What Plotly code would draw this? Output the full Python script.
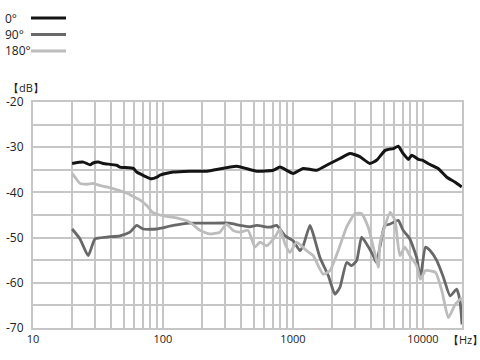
import plotly.graph_objects as go

# ---- data ----
freq_0 = [20, 24.4, 27.5, 29, 31.8, 34.7, 44.1, 46.7, 59.2, 62.8, 81.6, 89, 95, 120, 161, 217,
          369, 526, 705, 795, 1004, 1200, 1523, 1927, 2300, 2750, 3270, 3900, 4400, 5130,
          5920, 6460, 7050, 7730, 8210, 9240, 10000, 10950, 13100, 15200, 17600, 19900]
db_0 = [-33.6, -33.3, -33.9, -33.5, -33.3, -33.6, -34.0, -34.4, -34.7, -35.5, -37.0, -36.7, -36.2,
        -35.5, -35.3, -35.3, -34.2, -35.3, -35.1, -34.4, -35.8, -34.7, -35.1, -33.6, -32.5,
        -31.4, -32.1, -33.6, -32.9, -30.7, -30.3, -29.8, -31.4, -32.7, -31.8, -32.7, -32.9,
        -33.6, -34.7, -36.6, -37.7, -38.8]

freq_90 = [20, 23, 26.6, 30, 36.9, 46.7, 55.7, 62.8, 70.5, 89, 120, 161, 229, 326, 391, 466,
           527, 667, 750, 870, 1004, 1133, 1200, 1352, 1432, 1614, 1870, 2105, 2300, 2588,
           2830, 3093, 3376, 3690, 4150, 4380, 4980, 5130, 5600, 6460, 7050, 7940, 8950,
           9560, 10480, 11400, 12800, 14400, 16200, 18200, 19300, 20000]
db_90 = [-48.1, -50.3, -54.0, -50.3, -49.9, -49.6, -48.8, -47.3, -48.1, -48.1, -47.3, -46.8,
         -46.8, -46.8, -47.3, -47.6, -47.3, -47.7, -47.3, -49.6, -50.7, -52.9, -51.8, -47.3,
         -49.2, -54.4, -58.4, -62.5, -61.0, -55.5, -56.2, -55.1, -49.9, -51.4, -54.0, -55.5,
         -48.1, -47.3, -47.0, -46.2, -48.4, -50.3, -54.4, -58.8, -52.1, -52.9, -55.1, -58.8,
         -62.9, -61.4, -64.0, -69.2]

freq_180 = [20, 21.5, 23, 26, 29, 33, 37, 45, 53, 60, 66, 75, 84, 95, 107, 125, 161, 193, 229,
            274, 308, 346, 391, 452, 510, 558, 627, 727, 795, 870, 948, 1067, 1274, 1432,
            1710, 1927, 2230, 2588, 3000, 3376, 3796, 4403, 4555, 4670, 4980, 5600, 6100,
            6650, 7270, 7940, 8950, 9560, 10480, 12500, 14000, 15700, 17800, 19900]
db_180 = [-35.8, -37.0, -38.0, -38.2, -38.0, -38.5, -38.8, -39.5, -40.2, -41.0, -41.6, -42.9,
          -44.5, -45.0, -45.3, -45.6, -46.6, -48.4, -49.2, -48.8, -47.0, -48.4, -48.8, -48.4,
          -52.1, -51.0, -51.8, -49.9, -48.1, -51.4, -53.3, -51.0, -52.9, -54.0, -58.1, -57.3,
          -52.9, -47.7, -44.7, -44.7, -47.7, -55.1, -56.6, -51.4, -48.4, -44.4, -46.2, -54.0,
          -52.1, -54.0, -56.2, -59.2, -57.3, -57.7, -61.8, -67.7, -64.7, -63.3]

series_names = ["0°", "90°", "180°"]
series_colors = ["#141414", "#686868", "#bcbcbc"]

x_tickvals = [m * 10 ** e for e in range(1, 5) for m in range(1, 10) if m * 10 ** e <= 20000]
x_ticktext = [str(v) if str(v).startswith("1") and set(str(v)[1:]) <= {"0"} else "" for v in x_tickvals]
y_tickvals = list(range(-70, -15, 5))
y_ticktext = [str(v) if v % 10 == 0 else "" for v in y_tickvals]

# ---- figure ----
W, H = 480, 360
L, R, T, B = 33, 18, 102, 32
PW, PH = W - L - R, H - T - B


def px(xp):
    return (xp - L) / PW


def py(yp):
    return (H - B - yp) / PH


FONT = "Open Sans, Noto Sans, sans-serif"
fig = go.Figure()

for f, d, c, lw in [(freq_90, db_90, series_colors[1], 2.8),
                    (freq_180, db_180, series_colors[2], 2.8),
                    (freq_0, db_0, series_colors[0], 3.0)]:
    fig.add_trace(go.Scatter(x=f, y=d, mode="lines",
                             line=dict(color=c, width=lw, shape="spline", smoothing=0.5),
                             showlegend=False, hoverinfo="skip"))

grid = "#c6c6c6"
fig.update_xaxes(type="log", range=[1, 4.30103], tickvals=x_tickvals, ticktext=x_ticktext,
                 showgrid=True, gridcolor=grid, gridwidth=1.6, zeroline=False,
                 showline=True, linecolor=grid, linewidth=2, mirror=True,
                 ticks="", automargin=False,
                 tickfont=dict(family=FONT, size=11, color="#222"), tickangle=0)
fig.update_yaxes(range=[-70, -20], tickvals=y_tickvals, ticktext=y_ticktext,
                 showgrid=True, gridcolor=grid, gridwidth=1.6, zeroline=False,
                 showline=True, linecolor=grid, linewidth=2, mirror=True,
                 ticks="outside", ticklen=5, tickcolor="rgba(0,0,0,0)", automargin=False,
                 tickfont=dict(family=FONT, size=12, color="#222"))

shapes = []
annotations = []
legend_y = [18, 34.5, 51]
for name, col, yp in zip(series_names, series_colors, legend_y):
    shapes.append(dict(type="line", xref="paper", yref="paper", x0=px(31), x1=px(66),
                       y0=py(yp), y1=py(yp), line=dict(color=col, width=3)))
    annotations.append(dict(xref="paper", yref="paper", x=px(3), y=py(yp), xanchor="left",
                            yanchor="middle", text=name, showarrow=False,
                            font=dict(family=FONT, size=12, color="#222")))

annotations.append(dict(xref="paper", yref="paper", x=px(6), y=py(87), xanchor="left",
                        yanchor="middle", text="【dB】", showarrow=False,
                        font=dict(family=FONT, size=11, color="#222")))
annotations.append(dict(xref="paper", yref="paper", x=px(446), y=py(339), xanchor="left",
                        yanchor="middle", text="【Hz】", showarrow=False,
                        font=dict(family=FONT, size=11, color="#222")))

fig.update_layout(width=W, height=H, margin=dict(l=L, r=R, t=T, b=B),
                  paper_bgcolor="white", plot_bgcolor="white",
                  shapes=shapes, annotations=annotations, showlegend=False)

fig.write_html("out.html", config={"displayModeBar": False},
               post_script="document.body.style.margin='0';")
